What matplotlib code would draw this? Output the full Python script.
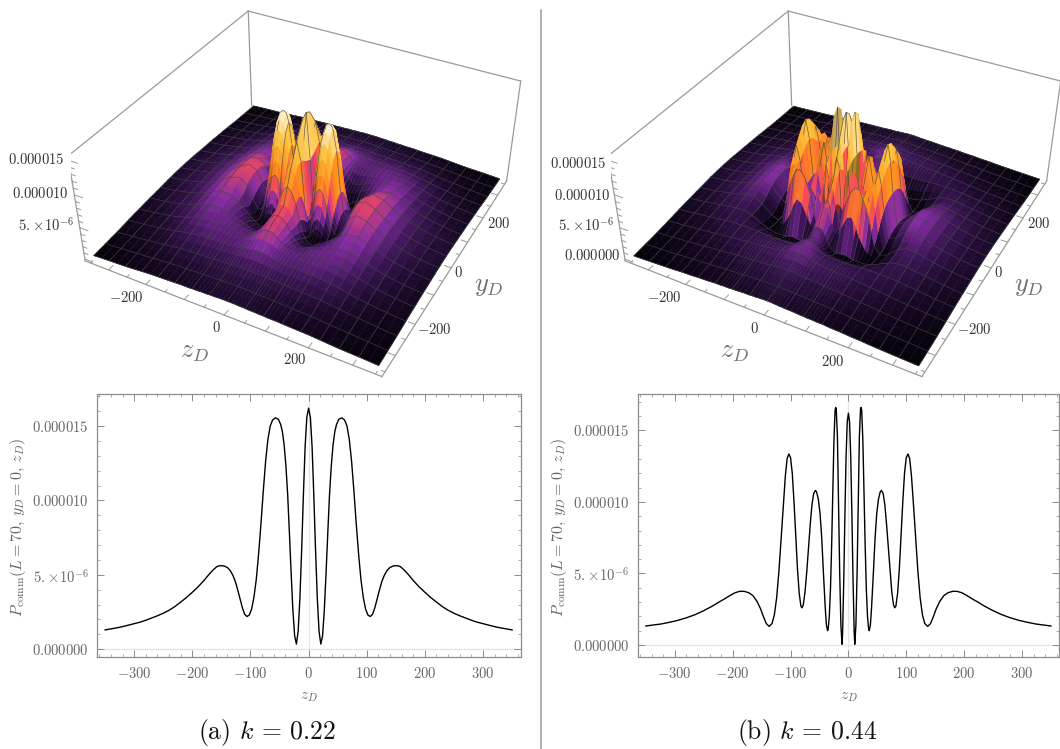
import numpy as np
import matplotlib
matplotlib.use("Agg")
import matplotlib.pyplot as plt
from matplotlib.colors import LinearSegmentedColormap
from mpl_toolkits.mplot3d.art3d import Poly3DCollection

plt.rcParams['mathtext.fontset'] = 'cm'
plt.rcParams['font.family'] = ['cmr10', 'DejaVu Serif']
plt.rcParams['axes.formatter.use_mathtext'] = True

# ---- curve readings (z_D >= 0, unit 1e-6); the curves are mirror-symmetric ----
z_line_a = [0,3,6,9,12,15,18,21,24,27,30,33,36,39,42,45,48,52,57,62,66,70,74,78,82,86,90,94,98,102,106,110,114,118,122,126,130,135,140,146,152,158,165,172,180,190,200,210,220,230,240,250,260,270,280,290,300,310,320,330,340,350]
p_line_a = [16.2,15.6,13.6,10.3,6.6,3.4,1.2,0.35,0.9,2.6,5.1,7.8,10.4,12.3,13.7,14.6,15.1,15.45,15.55,15.4,15.0,14.1,12.6,10.6,8.4,6.4,4.7,3.5,2.7,2.3,2.2,2.35,2.8,3.4,4.0,4.55,4.95,5.3,5.5,5.6,5.62,5.55,5.3,5.0,4.62,4.2,3.83,3.48,3.17,2.87,2.62,2.42,2.25,2.1,1.95,1.82,1.72,1.62,1.52,1.44,1.37,1.3]
z_line_b = [0,2,4,6,8,10,11,13,15,17,19,21,22,23,25,27,29,31,33,35,36,38,40,43,46,49,52,55,57,60,63,66,69,72,75,78,80,82,85,88,91,94,97,100,103,106,109,112,116,120,124,128,132,137,142,147,152,158,165,172,180,188,196,205,215,225,235,250,265,280,295,310,325,340,350]
p_line_b = [16.2,15.6,13.2,9.2,4.6,0.9,0.05,1.4,5.0,10.0,14.6,16.5,16.6,16.4,14.3,10.6,6.9,3.9,2.0,1.1,1.0,1.4,2.6,4.9,7.4,9.2,10.2,10.7,10.8,10.6,9.8,8.4,6.8,5.1,3.7,2.8,2.6,2.7,3.6,5.3,7.6,10.0,12.0,13.1,13.35,13.0,11.8,10.1,7.6,5.2,3.3,2.1,1.5,1.3,1.5,2.0,2.55,3.05,3.45,3.65,3.75,3.75,3.65,3.45,3.2,2.97,2.72,2.4,2.12,1.9,1.72,1.58,1.46,1.38,1.33]

# ---- surface readings for one quadrant: rows y_grid_*, columns z_grid_*, unit 1e-6 ----
y_grid_a = [0,15,22,30,37,43.75,50,57,63,70,87.5,105,131.25,150,175,196,218.75,240,262.5,284,306.25,328,350]
z_grid_a = [0,10,20,30,37,43.75,50,57,65,75,87.5,96,105,118,131.25,150,175,196,218.75,240,262.5,284,306.25,328,350]
rows_a = [
[16.2,9.4,.4,5.1,11,14,15.3,15.55,15.1,12.1,5.9,3.1,2.2,3.4,5.0,5.6,4.9,4.0,3.2,2.65,2.2,1.9,1.65,1.45,1.3],
[15.8,9.8,.7,4.8,10,13,14.4,14.8,14.2,11.2,5.4,2.8,2.0,3.2,4.9,5.55,4.9,4.0,3.2,2.65,2.2,1.9,1.65,1.45,1.3],
[15.3,10,1,4.2,8.7,11.6,13,13.4,12.8,10,4.7,2.4,1.8,3,4.75,5.5,4.85,3.95,3.15,2.6,2.2,1.9,1.65,1.45,1.3],
[14.6,10.3,1.8,3.4,7.2,9.8,11,11.4,10.8,8.2,3.8,1.9,1.5,2.8,4.6,5.4,4.8,3.95,3.15,2.6,2.2,1.9,1.65,1.45,1.3],
[14,10.6,3,2.5,5.3,7.6,8.9,9.3,8.8,6.4,2.9,1.4,1.2,2.55,4.4,5.25,4.75,3.9,3.1,2.6,2.15,1.85,1.6,1.4,1.25],
[13.4,10.7,4.2,2,3.6,5.6,6.8,7.3,6.8,4.8,2,1,1,2.3,4.2,5.1,4.7,3.9,3.1,2.6,2.15,1.85,1.6,1.4,1.25],
[12.7,10.6,5,1.8,2.2,3.6,4.7,5.2,4.9,3.3,1.4,.7,.8,2.1,3.95,4.95,4.6,3.85,3.05,2.55,2.15,1.85,1.6,1.4,1.25],
[12,10.5,6,2.2,1,1.8,2.6,3.2,3,2.1,.9,.5,.7,1.9,3.7,4.8,4.55,3.8,3.05,2.55,2.15,1.85,1.6,1.4,1.25],
[11.2,10.1,6.2,2.6,1,.7,1,1.7,1.8,1.2,.6,.4,.75,1.8,3.5,4.6,4.45,3.75,3,2.5,2.1,1.85,1.55,1.35,1.2],
[10.5,9.5,6.5,3,1.2,.5,.6,.9,1,.7,.5,.6,1,2,3.4,4.4,4.35,3.7,3,2.5,2.1,1.8,1.55,1.35,1.2],
[8.2,7.6,6,3.6,2,1,.5,.35,.35,.5,1,1.3,1.9,2.6,3.2,3.9,4.1,3.55,2.9,2.4,2.05,1.75,1.5,1.3,1.15],
[6,5.7,4.8,3.4,2.4,1.7,1.2,1.1,1.2,1.4,1.8,2.1,2.4,2.9,3.3,3.7,3.8,3.35,2.75,2.3,1.95,1.65,1.45,1.25,1.1],
[5.4,5.2,4.6,3.6,3,2.4,2,1.7,1.8,2,2.3,2.5,2.7,3,3.2,3.4,3.5,3.1,2.6,2.2,1.85,1.6,1.35,1.2,1.05],
[5.3,5.1,4.4,3.6,3.1,2.8,2.6,2.5,2.5,2.6,2.8,2.9,3,3.1,3.2,3.3,3.3,2.9,2.45,2.05,1.75,1.5,1.3,1.15,1],
[4.8,4.7,4.2,3.7,3.4,3.2,3,2.9,2.9,2.9,3,3,3,3.1,3.1,3.1,3,2.65,2.25,1.9,1.6,1.4,1.2,1.05,.9],
[4.1,4,3.8,3.45,3.3,3.15,3,2.95,2.85,2.8,2.8,2.8,2.85,2.9,2.9,2.85,2.7,2.4,2.05,1.75,1.5,1.3,1.1,.95,.85],
[3.3,3.3,3.15,3,2.95,2.85,2.8,2.75,2.7,2.65,2.65,2.6,2.6,2.6,2.55,2.5,2.3,2.1,1.8,1.55,1.35,1.15,1,.85,.75],
[2.75,2.7,2.65,2.6,2.55,2.5,2.45,2.4,2.35,2.3,2.3,2.25,2.25,2.25,2.2,2.15,2,1.8,1.6,1.4,1.2,1.05,.9,.75,.65],
[2.2,2.2,2.15,2.15,2.1,2.1,2.05,2.05,2,2,1.95,1.95,1.9,1.9,1.85,1.8,1.7,1.55,1.35,1.2,1.05,.9,.8,.65,.55],
[1.85,1.85,1.85,1.8,1.8,1.8,1.75,1.75,1.7,1.7,1.65,1.65,1.6,1.6,1.55,1.5,1.45,1.3,1.15,1.05,.9,.8,.7,.6,.5],
[1.6,1.6,1.6,1.55,1.55,1.55,1.5,1.5,1.5,1.45,1.4,1.4,1.4,1.35,1.3,1.3,1.2,1.1,1,.9,.8,.7,.6,.5,.42],
[1.4,1.4,1.4,1.35,1.35,1.35,1.3,1.3,1.3,1.25,1.25,1.2,1.2,1.2,1.15,1.1,1.05,.95,.85,.75,.65,.6,.52,.44,.36],
[1.25,1.25,1.25,1.2,1.2,1.2,1.15,1.15,1.15,1.1,1.1,1.05,1.05,1.05,1,.95,.9,.85,.75,.65,.55,.5,.45,.38,.3],
]
y_grid_b = [0,15,30,43.75,57,70,87.5,105,131.25,150,175,196,218.75,240,262.5,284,306.25,328,350]
z_grid_b = [0,5,10.5,16,21.5,27,36,43.75,57,69,80,87.5,95,103,110,118,131.25,150,175,196,218.75,240,262.5,284,306.25,328,350]
rows_b = [
[16.2,11.5,.1,7.5,16.6,10.6,1,5.5,10.8,6.8,2.6,5.2,10.7,13.35,11,6.4,1.6,2.3,3.7,3.7,3.1,2.6,2.15,1.85,1.6,1.45,1.33],
[15.5,11.5,.6,6.8,15.8,10.5,1.2,4.9,10.1,6.5,2.5,5,10.3,13,10.7,6.3,1.5,2.2,3.65,3.7,3.1,2.6,2.15,1.85,1.6,1.45,1.33],
[13.5,11,2,4.2,12.5,10.2,2,2.8,7.6,6,2.6,4.8,9.5,12,10,6,1.3,2,3.5,3.6,3.05,2.55,2.15,1.85,1.6,1.4,1.3],
[11,9.8,3.6,1.4,7.5,9.5,3.2,.9,4,5,3.4,5,8.8,11,9,5.4,1,1.6,3.2,3.45,3,2.5,2.1,1.8,1.55,1.4,1.3],
[8.8,8.2,4.6,.6,3.2,7.5,4.8,1,1.6,4.2,5.2,6.5,8.8,10,7.9,4.4,.6,1.2,2.8,3.25,2.9,2.45,2.05,1.8,1.55,1.35,1.25],
[7.6,7,5,1.2,1,4.5,6,3,.8,4.5,7.5,8.6,9.2,8.8,6.3,3,.3,.8,2.4,3,2.75,2.35,2,1.75,1.5,1.35,1.2],
[6.2,5.2,2.5,.4,.3,1.2,3.5,6,8.4,9.4,9.2,8,7,5.5,3.4,1.4,.2,.6,2,2.7,2.55,2.25,1.95,1.7,1.45,1.3,1.15],
[6,5.8,5,3.6,2.6,2,2.2,3.4,5.2,5.6,4.4,3,2.1,1.2,.7,.3,.2,.7,1.8,2.4,2.35,2.1,1.85,1.6,1.4,1.25,1.1],
[3.6,3.5,3.2,2.6,1.9,1.3,.6,.4,.5,.6,.4,.25,.2,.2,.2,.3,.5,1,1.8,2.15,2.1,1.9,1.7,1.5,1.3,1.15,1],
[2.6,2.6,2.4,2.1,1.7,1.3,.8,.7,.7,.7,.6,.6,.65,.7,.8,.9,1.2,1.5,1.9,2,1.95,1.75,1.55,1.35,1.2,1.05,.95],
[3.2,3.2,3.1,2.9,2.6,2.3,2,1.9,1.8,1.75,1.7,1.7,1.7,1.75,1.75,1.8,1.85,1.9,1.9,1.85,1.75,1.55,1.4,1.25,1.1,.95,.85],
[3.3,3.3,3.2,3.1,3,2.8,2.5,2.4,2.3,2.2,2.15,2.1,2.1,2.1,2.05,2.05,2,2,1.85,1.75,1.55,1.4,1.25,1.1,1,.85,.75],
[3.05,3,3,2.95,2.9,2.75,2.6,2.5,2.4,2.3,2.25,2.2,2.15,2.1,2.1,2.05,2,1.85,1.7,1.55,1.4,1.25,1.1,1,.85,.75,.65],
[2.6,2.6,2.55,2.55,2.5,2.45,2.4,2.3,2.25,2.2,2.1,2.05,2,2,1.95,1.9,1.85,1.7,1.55,1.4,1.25,1.15,1,.9,.75,.65,.55],
[2.15,2.15,2.15,2.1,2.1,2.1,2,2,1.95,1.9,1.85,1.8,1.75,1.75,1.7,1.7,1.6,1.5,1.35,1.25,1.1,1,.85,.75,.65,.55,.48],
[1.85,1.85,1.85,1.8,1.8,1.8,1.75,1.75,1.7,1.65,1.6,1.6,1.55,1.5,1.5,1.45,1.4,1.3,1.2,1.1,1,.85,.75,.65,.55,.48,.4],
[1.6,1.6,1.6,1.6,1.55,1.55,1.5,1.5,1.45,1.45,1.4,1.35,1.3,1.3,1.3,1.25,1.2,1.15,1,.95,.85,.75,.65,.55,.5,.42,.36],
[1.45,1.45,1.4,1.4,1.4,1.35,1.35,1.3,1.3,1.25,1.2,1.2,1.15,1.15,1.15,1.1,1.05,1,.9,.85,.75,.65,.55,.48,.42,.36,.3],
[1.3,1.3,1.3,1.25,1.25,1.2,1.2,1.15,1.15,1.1,1.05,1.05,1,1,1,.95,.95,.85,.8,.7,.65,.55,.48,.42,.36,.3,.25],
]
mesh_levels = [0,43.75,87.5,131.25,175,218.75,262.5,306.25,350]
five_e6 = '$5.\\!\\times\\!10^{-6}$'
x_ticks = [-300,-200,-100,0,100,200,300]
x_ticklabels = ['$-300$','$-200$','$-100$','$0$','$100$','$200$','$300$']
y_ticks = [0,5,10,15]
y_ticklabels = ['$0.000000$',five_e6,'$0.000010$','$0.000015$']

W, H = 1060, 749
fig = plt.figure(figsize=(W/100, H/100), dpi=100)

cmap = LinearSegmentedColormap.from_list('sunset', [
    (0.00, '#000000'), (0.08, '#1c0a2c'), (0.14, '#3e1658'), (0.22, '#842ca2'),
    (0.34, '#f5485f'), (0.48, '#ff8a1c'), (0.72, '#ffc23c'), (0.90, '#fff0c4'), (1.00, '#ffffff')])

BOX = 364.0; ZLO = -0.3; ZHI = 15.6
ELEV, AZIM, FOCAL, ZASPECT = 36.141, -61.788, 0.4220, 0.3939
S, TX, TY = 2477.25, 306.23, 169.62

def panel3d(zg, yg, rows, shift):
    zg = np.array(zg); yg = np.array(yg); T = np.array(rows, float)
    fz = np.concatenate([-zg[:0:-1], zg]); fy = np.concatenate([-yg[:0:-1], yg])
    iz = np.concatenate([np.arange(len(zg)-1, 0, -1), np.arange(len(zg))])
    iy = np.concatenate([np.arange(len(yg)-1, 0, -1), np.arange(len(yg))])
    P = T[np.ix_(iy, iz)]
    ax = fig.add_axes([0, 0, 1, 1], projection='3d')
    ax.set_axis_off(); ax.patch.set_visible(False); ax.computed_zorder = False
    ax.set_xlim(-BOX, BOX); ax.set_ylim(-BOX, BOX); ax.set_zlim(ZLO, ZHI)
    ax.set_box_aspect((1, 1, ZASPECT))
    ax.set_proj_type('persp', focal_length=FOCAL)
    ax.view_init(elev=ELEV, azim=AZIM)
    vx = ax.viewLim.intervalx; vy = ax.viewLim.intervaly
    left = TX + S*vx[0] + shift; right = TX + S*vx[1] + shift
    top = TY - S*vy[1]; bottom = TY - S*vy[0]
    ax.set_position([left/W, 1-bottom/H, (right-left)/W, (bottom-top)/H])
    M = ax.get_proj()
    u, sv, vt = np.linalg.svd(M[[0,1,3], :]); C = vt[-1]; C = C[:3]/C[3]
    c = '#9a9a9a'
    for a, b in [((-BOX,-BOX,ZLO),(-BOX,-BOX,ZHI)), ((-BOX,BOX,ZLO),(-BOX,BOX,ZHI)), ((BOX,BOX,ZLO),(BOX,BOX,ZHI)),
                 ((-BOX,-BOX,ZHI),(-BOX,BOX,ZHI)), ((-BOX,BOX,ZHI),(BOX,BOX,ZHI)),
                 ((-BOX,-BOX,ZLO),(BOX,-BOX,ZLO)), ((BOX,-BOX,ZLO),(BOX,BOX,ZLO))]:
        ax.plot(*zip(a, b), color=c, lw=0.9, zorder=1)
    for t in range(-350, 351, 50):
        L = 16 if t % 100 == 0 else 8
        ax.plot([t,t], [-BOX,-BOX+L], [ZLO,ZLO], color=c, lw=0.7, zorder=1)
        ax.plot([BOX,BOX-L], [t,t], [ZLO,ZLO], color=c, lw=0.7, zorder=1)
    for t in range(0, 16):
        L = 22 if t % 5 == 0 else 11
        ax.plot([-BOX,-BOX+L], [-BOX,-BOX], [t,t], color=c, lw=0.7, zorder=1)
    verts, fcs = [], []
    for i in range(len(fy)-1):
        for j in range(len(fz)-1):
            q = [(fz[j],fy[i],P[i,j]), (fz[j+1],fy[i],P[i,j+1]), (fz[j+1],fy[i+1],P[i+1,j+1]), (fz[j],fy[i+1],P[i+1,j])]
            verts.append(q)
            mean = (P[i,j]+P[i,j+1]+P[i+1,j+1]+P[i+1,j])/4
            slope = ((P[i,j+1]+P[i+1,j+1])-(P[i,j]+P[i+1,j]))/2/(fz[j+1]-fz[j])
            col = np.array(cmap(min(mean/16.6, 1)))
            col[:3] *= 1 - 0.5*np.clip(slope/0.8, 0, 1)*min(1, 1.4*(1-mean/16.6)+.2)
            fcs.append(col)
    ecs = [tuple(f) for f in fcs]
    lc = (0.27, 0.27, 0.27, 0.8)
    for lv in sorted(set(mesh_levels) | {-v for v in mesh_levels}):
        kz = int(np.argmin(abs(fz-lv))); ky = int(np.argmin(abs(fy-lv)))
        segs = [[(fz[kz],fy[a],P[a,kz]), (fz[kz],fy[a+1],P[a+1,kz])] for a in range(len(fy)-1)]
        segs += [[(fz[a],fy[ky],P[ky,a]), (fz[a+1],fy[ky],P[ky,a+1])] for a in range(len(fz)-1)]
        for seg in segs:
            s3 = np.array(seg)
            s3 = s3 + 0.008*(C - s3)   # nudged along the view ray: depth order only
            verts.append([tuple(v) for v in s3]); fcs.append((0,0,0,0)); ecs.append(lc)
    ax.add_collection3d(Poly3DCollection(verts, facecolors=fcs, edgecolors=ecs, linewidths=0.5, closed=False, zorder=2))
    return ax

panel3d(z_grid_a, y_grid_a, rows_a, 0)
panel3d(z_grid_b, y_grid_b, rows_b, 540)

def ftext(x, y, s, **kw):
    kw.setdefault('ha', 'center'); kw.setdefault('va', 'center')
    return fig.text(x/W, 1-y/H, s, **kw)

TC = '#333333'
for dx, dy, dl in [(0, 0, 0), (540, 1, -2)]:
    for (x, y), s in zip([(126,297),(216,328),(295,360)], ['$-200$', '$0$', '$200$']):
        ftext(x+dx+dl, y+dy, s, fontsize=10.5, color=TC)
    for (x, y), s in zip([(500,223),(459,273),(435,330)], ['$200$','$0$','$-200$']):
        ftext(x+dx-1, y, s, fontsize=10.5, color=TC)
    ftext(195+dx, 352, '$z_D$', fontsize=19, color='#707070')
    ftext(489+dx, 286, '$y_D$', fontsize=19, color='#707070')
for x, y, s in [(64,160,'$0.000015$'), (69,193,'$0.000010$'), (74,225,five_e6)]:
    ftext(x, y, s, ha='right', fontsize=10.5, color=TC)
for x, y, s in [(606,164,'$0.000015$'), (611,195,'$0.000010$'), (614,225,five_e6), (621,255,'$0.000000$')]:
    ftext(x, y, s, ha='right', fontsize=10.5, color=TC)

def panel2d(rect_px, xlim, ylim, z, p, ylab_x, zlab_x):
    l, t, r, b = rect_px
    ax = fig.add_axes([l/W, 1-b/H, (r-l)/W, (b-t)/H])
    zz = np.array(z, float); pp = np.array(p, float)
    X = np.concatenate([-zz[:0:-1], zz]); Y = np.concatenate([pp[:0:-1], pp])
    ax.axhline(0, color='#e4e4e4', lw=0.9, zorder=1)
    ax.axvline(0, color='#e4e4e4', lw=0.9, zorder=1)
    ax.plot(X, Y, color='black', lw=1.0, zorder=3)
    ax.set_xlim(*xlim); ax.set_ylim(*ylim)
    ax.set_xticks(x_ticks); ax.set_xticklabels(x_ticklabels)
    ax.set_yticks(y_ticks); ax.set_yticklabels(y_ticklabels)
    ax.set_xticks(np.arange(-360, 361, 20), minor=True)
    ax.set_yticks(np.arange(0, 18, 1), minor=True)
    for s in ax.spines.values():
        s.set_color('#8c8c8c'); s.set_linewidth(0.9)
    ax.tick_params(which='major', direction='in', top=True, right=True, length=5, width=0.7, color='#8c8c8c',
                   labelcolor='#666666', labelsize=10.5, pad=6)
    ax.tick_params(which='minor', direction='in', top=True, right=True, length=2.5, width=0.6, color='#a0a0a0')
    ftext(ylab_x, 527, '$P_{\\mathrm{comm}}(L=70,\\, y_D=0,\\, z_D)$', rotation=90, fontsize=11.5, color='#666666')
    ftext(zlab_x, 697, '$z_D$', fontsize=11, color='#666666')

panel2d((96.7,394.3,520.5,657.3), (-364.5,364.5), (-0.54,17.13), z_line_a, p_line_a, 18, 308.5)
panel2d((637.5,394.3,1059.3,657.3), (-364.5,364.5), (-0.86,17.52), z_line_b, p_line_b, 559, 848.4)

ftext(267, 733, '(a) $k$ = 0.22', fontsize=18.5, color='#111111')
ftext(807, 733, '(b) $k$ = 0.44', fontsize=18.5, color='#111111')
fig.add_artist(plt.Line2D([540.5/W, 540.5/W], [0, 1-10/H], color='#9a9a9a', lw=1.1))

fig.savefig('out.png', dpi=100)
